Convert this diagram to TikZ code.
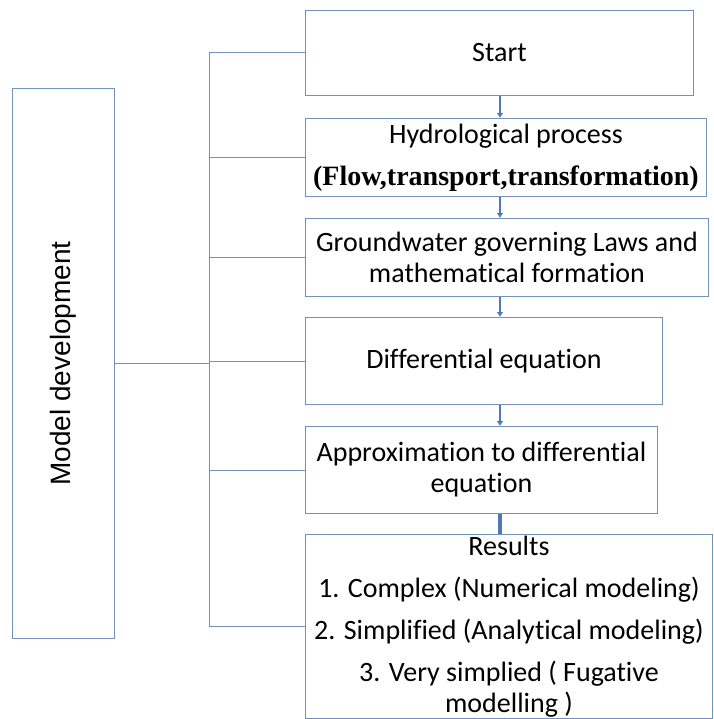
\documentclass[tikz,border=0pt]{standalone}
\usepackage{fontspec}
\usepackage{graphicx}
\usepackage{tikz}
\usepackage{xcolor}
\usetikzlibrary{arrows.meta}
\setmainfont[Ligatures=NoCommon]{Carlito}
\newfontfamily\arialfont{Liberation Sans}
\newfontfamily\timesfont{Liberation Serif}
\definecolor{box-line}{RGB}{115,145,185}
\definecolor{arrow-line}{RGB}{80,120,180}
\tikzset{
    flow-box/.style = {draw=box-line, fill=white, line width=0.9pt, rectangle, inner sep=0pt, anchor=north west, align=center, font=\fontsize{28}{31}\selectfont},
    flow-arrow/.style = {draw=arrow-line, line width=2.6pt, -{Latex[length=5pt,width=7pt]}},
    bus-line/.style = {draw=box-line, line width=0.9pt},
}
\begin{document}
\begin{tikzpicture}[x=1pt, y=-1pt]
\useasboundingbox (0,0) rectangle (713,719);
\node [flow-box, minimum width=102, minimum height=550, font=\arialfont\fontsize{28}{31}\selectfont] (model) at (12,88) {\rotatebox{90}{Model development}};
\node [flow-box, minimum width=388, minimum height=85] (start) at (305,10) {Start};
\node [flow-box, minimum width=401, minimum height=78] (hydro) at (305,118) {Hydrological process\\[11pt]{\timesfont\bfseries (Flow,transport,transformation)}};
\node [flow-box, minimum width=403, minimum height=78] (laws) at (305,218) {Groundwater governing Laws and\\mathematical formation};
\node [flow-box, minimum width=357, minimum height=87] (diffeq) at (305,317) {Differential equation};
\node [flow-box, minimum width=352, minimum height=87] (approx) at (305,426) {Approximation to differential\\equation};
\node [flow-box, minimum width=407, minimum height=184] (results) at (305,534) {Results\\[11pt]1. Complex (Numerical modeling)\\[11pt]2. Simplified (Analytical modeling)\\[11pt]3. Very simplied ( Fugative\\modelling )};
\coordinate (bus) at (209,0);
\coordinate (axis) at (500,0);
\draw [bus-line] (start.west) -- (start.west -| bus) -- (results.west -| bus) -- (results.west);
\foreach \step in {hydro, laws, diffeq, approx}
    \draw [bus-line] (\step.west -| bus) -- (\step.west);
\draw [bus-line] (model.east) -- (model.east -| bus);
\draw [flow-arrow] (start.south -| axis) -- (hydro.north -| axis);
\draw [flow-arrow] (hydro.south -| axis) -- (laws.north -| axis);
\draw [flow-arrow] (laws.south -| axis) -- (diffeq.north -| axis);
\draw [flow-arrow] (diffeq.south -| axis) -- (approx.north -| axis);
\draw [draw=arrow-line, line width=4.5pt] (approx.south -| axis) -- (results.north -| axis);
\end{tikzpicture}
\end{document}
